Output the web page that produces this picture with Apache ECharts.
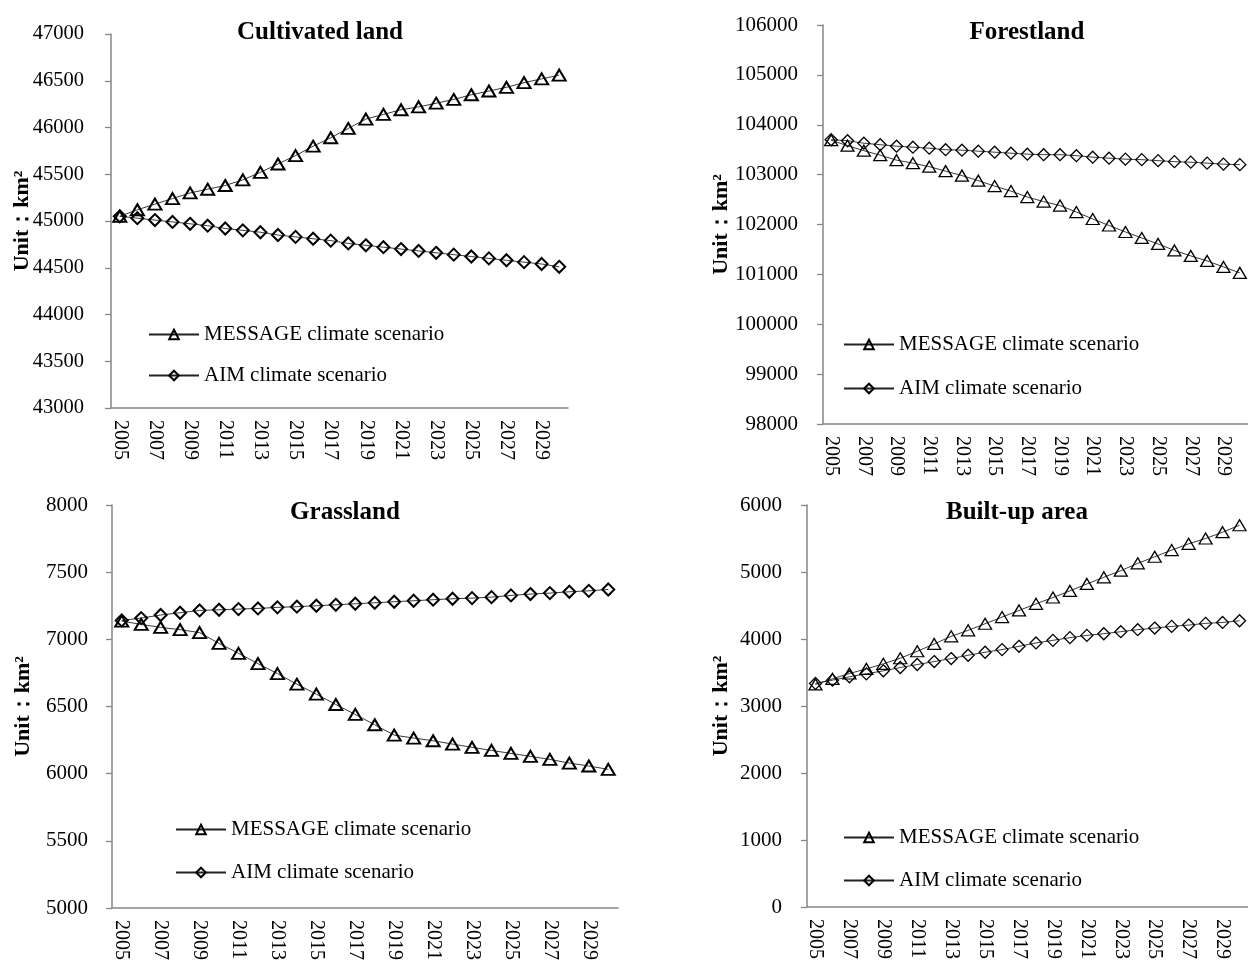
<!DOCTYPE html>
<html><head><meta charset="utf-8">
<script src="https://cdn.jsdelivr.net/npm/echarts@6/dist/echarts.min.js"></script>
<style>html,body{margin:0;padding:0;background:#fff}#c{width:1248px;height:963px}</style>
</head><body><div id="c"></div>
<script>
const years = ['2005','2006','2007','2008','2009','2010','2011','2012','2013','2014','2015','2016','2017','2018','2019','2020','2021','2022','2023','2024','2025','2026','2027','2028','2029','2030'];
const seriesNames = ['MESSAGE climate scenario','AIM climate scenario'];
const panelTitles = ['Cultivated land','Forestland','Grassland','Built-up area'];
const yAxisName = 'Unit：km²';

const cultMessage = [45050,45120,45180,45240,45300,45340,45380,45440,45520,45610,45700,45800,45890,45990,46090,46140,46190,46220,46260,46300,46350,46390,46430,46480,46520,46560];
const cultAim = [45050,45030,45010,44990,44970,44950,44920,44900,44880,44850,44830,44810,44790,44760,44740,44720,44700,44680,44660,44640,44620,44600,44580,44560,44540,44510];
const forestMessage = [103690,103580,103480,103390,103290,103230,103160,103070,102980,102880,102770,102670,102550,102460,102380,102250,102110,101980,101850,101730,101610,101480,101370,101270,101150,101030];
const forestAim = [103700,103680,103630,103600,103570,103550,103530,103500,103490,103470,103450,103430,103410,103400,103400,103380,103350,103330,103310,103300,103280,103260,103250,103230,103210,103200];
const grassMessage = [7136,7111,7089,7072,7050,6970,6896,6819,6745,6666,6592,6515,6441,6364,6287,6265,6245,6220,6196,6173,6151,6129,6106,6079,6057,6032];
const grassAim = [7141,7158,7181,7198,7215,7220,7225,7230,7238,7243,7250,7257,7265,7272,7280,7287,7295,7302,7307,7314,7327,7337,7344,7354,7361,7371];
const builtMessage = [3322,3406,3485,3554,3629,3713,3817,3926,4040,4129,4228,4327,4426,4525,4619,4718,4822,4921,5020,5129,5228,5327,5421,5500,5594,5698];
const builtAim = [3337,3386,3436,3480,3525,3574,3619,3663,3708,3757,3802,3842,3891,3941,3980,4020,4054,4079,4109,4139,4163,4188,4208,4233,4247,4272];

const yMin = [43000, 98000, 5000, 0];
const yMax = [47000, 106000, 8000, 6000];
const yStep = [500, 1000, 500, 1000];

const panelData = [[cultMessage, cultAim],[forestMessage, forestAim],[grassMessage, grassAim],[builtMessage, builtAim]];

const FONT = '"Liberation Serif","Times New Roman",serif';
const AXIS = '#868686';

const grids = [
  {left:111, top:34, width:457, height:374},
  {left:823, top:25, width:434, height:399},
  {left:112, top:505, width:506, height:403},
  {left:807, top:505, width:442, height:402}
];
const nameGaps = [78, 91, 78, 75];
const labelMargins = [27, 25, 24, 25];
const labelSizes = [20.5, 21, 21, 21];
const markerBorder = [2, 1.3, 2, 1.3];
const titlePos = [[315,15],[1022,15],[340,495],[1012,495]];
const legendPos = [
  {left:143, top:319, itemGap:20},
  {left:838, top:329, itemGap:23},
  {left:170, top:814, itemGap:22},
  {left:838, top:822, itemGap:22}
];

const option = {
  animation:false,
  backgroundColor:'#fff',
  title: panelTitles.map((t,i)=>({
    text:t, left:titlePos[i][0], top:titlePos[i][1], textAlign:'center',
    textStyle:{fontFamily:FONT, fontWeight:'bold', fontSize:25, color:'#000'}
  })),
  grid: grids.map(g=>Object.assign({containLabel:false}, g)),
  legend: legendPos.map((p,i)=>({
    data: seriesNames, orient:'vertical', left:p.left, top:p.top, itemGap:p.itemGap,
    itemWidth:50, itemHeight:12, selectedMode:false,
    textStyle:{fontFamily:FONT, fontSize:21, color:'#000'}
  })),
  xAxis: grids.map((g,i)=>({
    type:'category', gridIndex:i, data:years, boundaryGap:true,
    axisLine:{lineStyle:{color:AXIS, width:1.5}},
    axisTick:{interval:0, length:5, lineStyle:{color:AXIS, width:1.3}},
    axisLabel:{interval:1, rotate:-90, margin:12, fontFamily:FONT, fontSize:20, color:'#000'},
    splitLine:{show:false}
  })),
  yAxis: grids.map((g,i)=>({
    type:'value', gridIndex:i, min:yMin[i], max:yMax[i], interval:yStep[i],
    name:yAxisName, nameLocation:'middle', nameGap:nameGaps[i], nameRotate:90,
    nameMoveOverlap:false,
    nameTextStyle:{fontFamily:FONT, fontWeight:'bold', fontSize:22, color:'#000'},
    axisLine:{show:true, lineStyle:{color:AXIS, width:1.5}},
    axisTick:{show:true, length:6, lineStyle:{color:AXIS, width:1.3}},
    axisLabel:{margin:labelMargins[i], fontFamily:FONT, fontSize:labelSizes[i], color:'#000', formatter:v=>String(v)},
    splitLine:{show:false}
  })),
  series: []
};

panelData.forEach((pair,i)=>{
  pair.forEach((vals,k)=>{
    option.series.push({
      type:'line', name:seriesNames[k], xAxisIndex:i, yAxisIndex:i, data:vals,
      symbol: k===0 ? 'triangle' : 'diamond',
      symbolSize: k===0 ? [13,11] : [12,12],
      showAllSymbol:true,
      lineStyle:{color:'#222', width:0.9},
      itemStyle:{color:'rgba(255,255,255,0)', borderColor:'#000', borderWidth:markerBorder[i]},
      emphasis:{disabled:true},
      z: k===0 ? 3 : 2
    });
  });
});

const chart = echarts.init(document.getElementById('c'), null, {renderer:'canvas'});
chart.setOption(option);
</script>
</body></html>
